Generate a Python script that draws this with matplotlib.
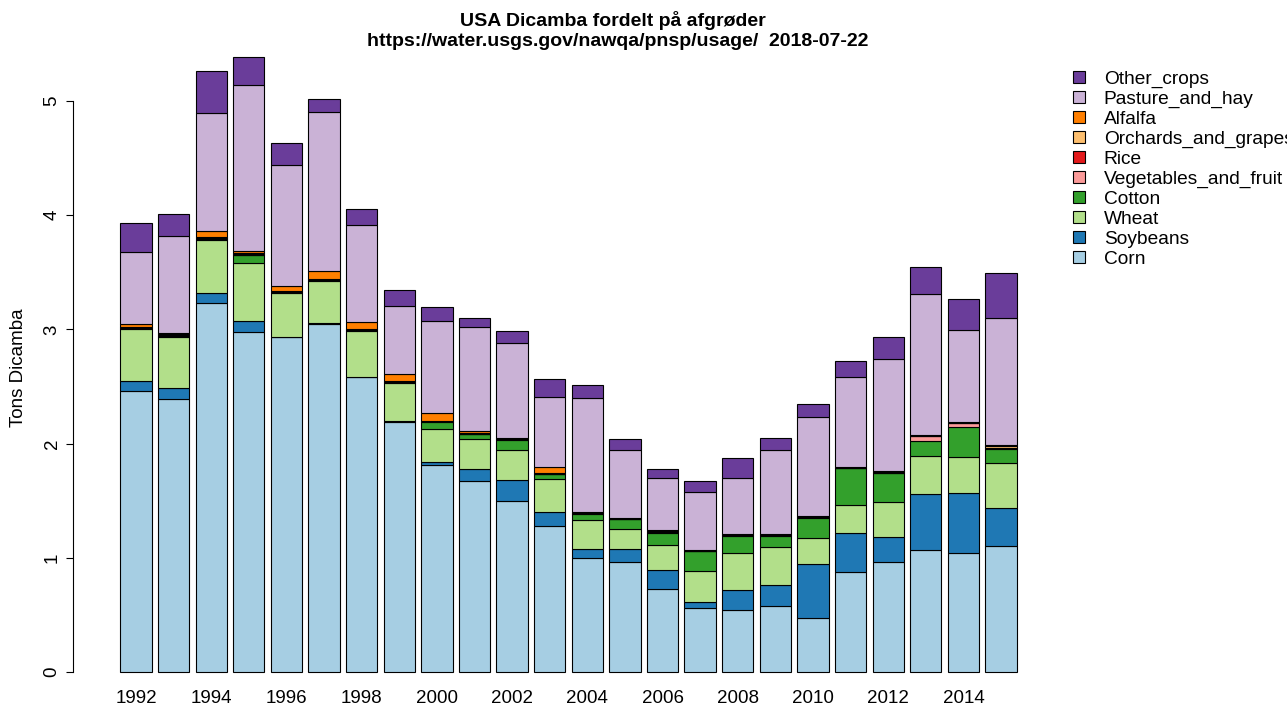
import numpy as np
import matplotlib
matplotlib.use("Agg")
import matplotlib.pyplot as plt
from matplotlib.patches import Patch

plt.rcParams['font.family'] = ['Liberation Sans', 'DejaVu Sans']

years = list(range(1992, 2016))

corn = [2.46, 2.39, 3.23, 2.975, 2.93, 3.05, 2.58, 2.19, 1.81, 1.67, 1.495, 1.276,
        0.995, 0.966, 0.727, 0.557, 0.543, 0.58, 0.47, 0.873, 0.96, 1.07, 1.045, 1.10]
soybeans = [0.09, 0.10, 0.085, 0.095, 0.005, 0.01, 0.005, 0.01, 0.03, 0.105, 0.19, 0.125,
            0.08, 0.11, 0.166, 0.06, 0.175, 0.18, 0.48, 0.34, 0.225, 0.49, 0.525, 0.34]
wheat = [0.45, 0.44, 0.47, 0.51, 0.38, 0.36, 0.40, 0.33, 0.29, 0.265, 0.26, 0.29,
         0.26, 0.18, 0.22, 0.27, 0.32, 0.335, 0.22, 0.25, 0.305, 0.335, 0.315, 0.39]
cotton = [0.008, 0.01, 0.01, 0.07, 0.01, 0.01, 0.01, 0.01, 0.06, 0.04, 0.09, 0.04,
          0.05, 0.08, 0.10, 0.17, 0.15, 0.10, 0.18, 0.32, 0.25, 0.13, 0.26, 0.12]
vegetables = [0.004, 0.005, 0.004, 0.004, 0.004, 0.004, 0.004, 0.004, 0.004, 0.004, 0.004, 0.004,
              0.004, 0.004, 0.01, 0.003, 0.008, 0.004, 0.005, 0.004, 0.005, 0.04, 0.035, 0.01]
rice = [0.003, 0.005, 0.003, 0.003, 0.003, 0.003, 0.003, 0.003, 0.003, 0.003, 0.003, 0.003,
        0.003, 0.003, 0.003, 0.002, 0.006, 0.003, 0.005, 0.003, 0.004, 0.005, 0.003, 0.005]
orchards = [0.004, 0.008, 0.004, 0.01, 0.004, 0.004, 0.004, 0.004, 0.004, 0.01, 0.004, 0.004,
            0.004, 0.004, 0.01, 0.003, 0.004, 0.004, 0.004, 0.003, 0.006, 0.004, 0.004, 0.01]
alfalfa = [0.03, 0.01, 0.06, 0.02, 0.045, 0.07, 0.06, 0.06, 0.07, 0.015, 0.005, 0.05,
           0.005, 0.005, 0.005, 0.004, 0.005, 0.005, 0.005, 0.004, 0.005, 0.005, 0.005, 0.015]
pasture = [0.63, 0.85, 1.025, 1.45, 1.055, 1.39, 0.85, 0.59, 0.80, 0.91, 0.83, 0.62,
           0.995, 0.59, 0.46, 0.505, 0.49, 0.73, 0.865, 0.785, 0.98, 1.235, 0.80, 1.11]
other = [0.255, 0.19, 0.37, 0.25, 0.2, 0.12, 0.14, 0.14, 0.125, 0.075, 0.105, 0.155,
         0.115, 0.10, 0.075, 0.10, 0.17, 0.11, 0.115, 0.145, 0.19, 0.23, 0.27, 0.39]

crops = ["Corn", "Soybeans", "Wheat", "Cotton", "Vegetables_and_fruit", "Rice",
         "Orchards_and_grapes", "Alfalfa", "Pasture_and_hay", "Other_crops"]
series = [corn, soybeans, wheat, cotton, vegetables, rice, orchards, alfalfa, pasture, other]
colors = ["#A6CEE3", "#1F78B4", "#B2DF8A", "#33A02C", "#FB9A99", "#E31A1C",
          "#FDBF6F", "#FF7F00", "#CAB2D6", "#6A3D9A"]

W, H = 1287, 706
fig = plt.figure(figsize=(W / 100, H / 100), dpi=100)

# axes in pixel terms: left 100, right 1030, top 50, bottom 686
ax = fig.add_axes([100 / W, 1 - 686 / H, 930 / W, 636 / H])

x = np.arange(len(years)) * 1.2
bottom = np.zeros(len(years))
for vals, col in zip(series, colors):
    vals = np.array(vals)
    ax.bar(x, vals, width=1.0, bottom=bottom, color=col, edgecolor="black", linewidth=0.8)
    bottom += vals

ppu_x = (1001 - 136) / (23 * 1.2)
ax.set_xlim(-(136 - 100) / ppu_x, x[-1] + (1030 - 1001) / ppu_x)
ppu_y = (672 - 101) / 5
ax.set_ylim(-(686 - 672) / ppu_y, (672 - 50) / ppu_y)

for s in ["top", "right", "bottom"]:
    ax.spines[s].set_visible(False)
ax.spines["left"].set_bounds(0, 5)
ax.spines["left"].set_position(("outward", 27 * 0.72))
ax.spines["left"].set_linewidth(0.8)

ax.set_yticks(range(6))
ax.tick_params(axis="y", length=5, width=0.8, labelsize=13.5, pad=4)
for lab in ax.get_yticklabels():
    lab.set_rotation(90)
    lab.set_va("center")

ax.set_xticks(x[::2])
ax.set_xticklabels([str(y) for y in years[::2]], fontsize=13.5)
ax.tick_params(axis="x", length=0, pad=3)

ax.set_ylabel("Tons Dicamba", fontsize=13.5, labelpad=12)

fig.text(613 / W, 1 - 20 / H, "USA Dicamba fordelt på afgrøder", ha="center", va="center",
         fontsize=14, fontweight="bold")
fig.text(618 / W, 1 - 41 / H, "https://water.usgs.gov/nawqa/pnsp/usage/  2018-07-22",
         ha="center", va="center", fontsize=14, fontweight="bold")

handles = [Patch(facecolor=c, edgecolor="black", linewidth=0.8) for c in colors][::-1]
fig.legend(handles, crops[::-1], loc="upper left", bbox_to_anchor=(1073 / W, 1 - 71 / H),
           frameon=False, fontsize=13.8, handlelength=0.6, handleheight=0.6,
           labelspacing=0.15, handletextpad=1.0, borderaxespad=0, borderpad=0)

fig.savefig("out.png", dpi=100)
